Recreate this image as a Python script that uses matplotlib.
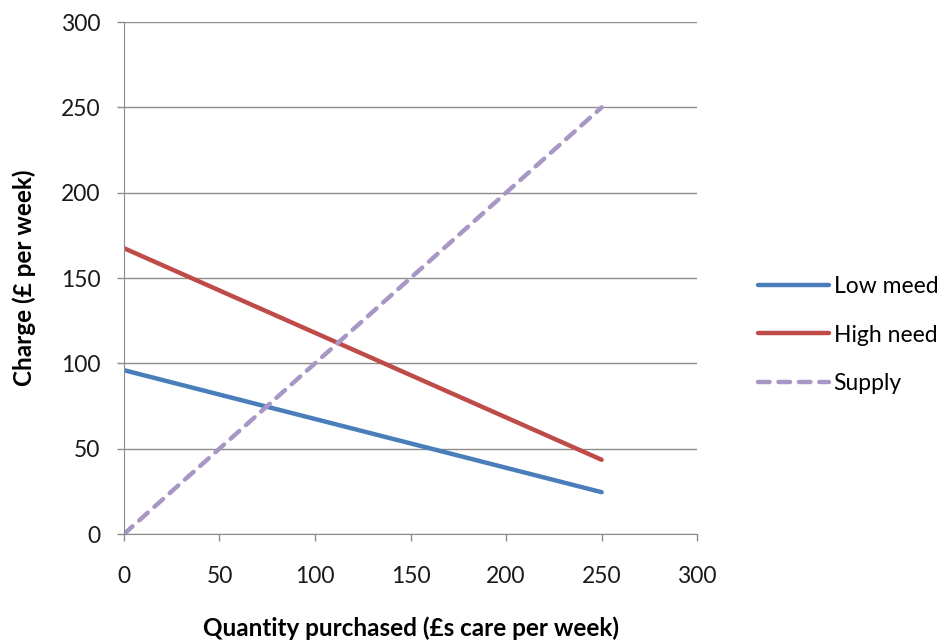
import matplotlib.pyplot as plt

plt.rcParams['font.family'] = ['Lato', 'DejaVu Sans']

# Data
quantity = [0, 250]
low_need = [96, 24.5]
high_need = [167.5, 43.5]
supply = [0, 250]

fig = plt.figure(figsize=(9.46, 6.4), dpi=100)
ax = fig.add_axes([0.131, 0.1656, 0.606, 0.8])

ax.plot(quantity, low_need, color='#4A7EBB', lw=3.2, label='Low meed', solid_capstyle='round')
ax.plot(quantity, high_need, color='#BE4B48', lw=3.2, label='High need', solid_capstyle='round')
ax.plot(quantity, supply, color='#A897C5', lw=3.2, ls=(0, (2.6, 2.0)), label='Supply',
        dash_capstyle='round')

ax.set_xlim(0, 300)
ax.set_ylim(0, 300)
ax.set_xticks(range(0, 301, 50))
ax.set_yticks(range(0, 301, 50))
ax.yaxis.grid(True, color='#8c8c8c', lw=1)
ax.set_axisbelow(True)

for s in ['top', 'right']:
    ax.spines[s].set_visible(False)
for s in ['left', 'bottom']:
    ax.spines[s].set_color('#8c8c8c')
ax.tick_params(colors='#8c8c8c', labelcolor='#1a1a1a', labelsize=16.5, length=5, width=1)
ax.tick_params(axis='x', pad=18)
ax.tick_params(axis='y', pad=12)

ax.set_xlabel('Quantity purchased (£s care per week)', fontsize=17.5, fontweight='bold', labelpad=21)
ax.set_ylabel('Charge (£ per week)', fontsize=17.5, fontweight='bold', labelpad=18)

fig.legend(*ax.get_legend_handles_labels(), loc='center left',
           bbox_to_anchor=(758 / 946, 1 - 335 / 640), frameon=False, fontsize=16.5,
           borderaxespad=0, borderpad=0, handlelength=3.1, handletextpad=0.2, labelspacing=1.22)

fig.savefig('out.png', dpi=100)
